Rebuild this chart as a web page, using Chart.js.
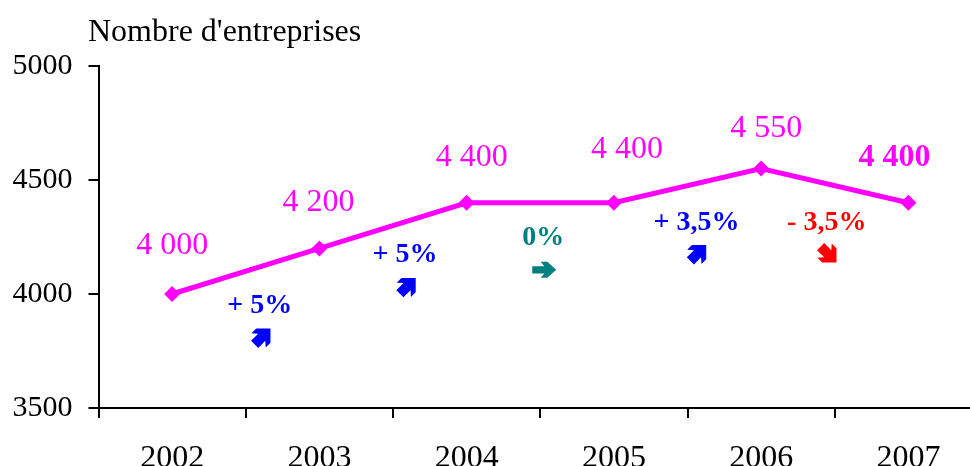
<!DOCTYPE html>
<html>
<head>
<meta charset="utf-8">
<script src="https://cdn.jsdelivr.net/npm/chart.js@4/dist/chart.umd.min.js"></script>
<style>
  html, body { margin: 0; padding: 0; background: #fff; overflow: hidden; }
  #wrap { width: 970px; height: 466px; overflow: hidden; }
  canvas { display: block; }
</style>
</head>
<body>
<div id="wrap"><canvas id="chart" width="990" height="466"></canvas></div>
<script>
// Nombre d'entreprises 2002-2007
const years = ['2002', '2003', '2004', '2005', '2006', '2007'];
const entreprises = [4000, 4200, 4400, 4400, 4550, 4400];
const valueLabels = ['4 000', '4 200', '4 400', '4 400', '4 550', '4 400'];
const changeLabels = ['+ 5%', '+ 5%', '0%', '+ 3,5%', '- 3,5%'];
const changeDirections = ['up', 'up', 'flat', 'up', 'down'];
const yMin = 3500;
const yMax = 5000;
const yStep = 500;

const SERIF = '"Liberation Serif", "Times New Roman", serif';
const MAGENTA = '#ff00ff';
const dirColors = { up: '#0000ff', flat: '#008080', down: '#ff0000' };

// label offsets (px) from each point / segment midpoint
const valueOffsets = [[0, -48], [-1, -46], [5, -45], [13, -53], [5, -40], [-14, -45]];
const changeTextOffsets = [[14, 35], [12, 29], [3, 35], [9, 37], [-8, 37]];
const changeArrowOffsets = [[16, 66], [14, 61], [4, 67], [10, 68], [-7, 68]];

function drawArrow(ctx, x, y, dir, color) {
    let pts, angle = 0, s = 1;
    if (dir === 'flat') {
        pts = [[-12, -3.6], [0, -3.6], [-3.5, -8], [3, -8], [12, 0], [3, 8], [-3.5, 8], [0, 3.6], [-12, 3.6]];
    } else {
        // chunkier diagonal arrow
        pts = [[-9, -4.5], [0, -4.5], [-4, -9], [2, -9], [11, 0], [2, 9], [-4, 9], [0, 4.5], [-9, 4.5]];
        angle = dir === 'up' ? -Math.PI / 4 : Math.PI / 4;
        s = 1.12;
    }
    ctx.save();
    ctx.translate(x, y);
    ctx.rotate(angle);
    ctx.scale(s, s);
    ctx.beginPath();
    pts.forEach((p, i) => i ? ctx.lineTo(p[0], p[1]) : ctx.moveTo(p[0], p[1]));
    ctx.closePath();
    ctx.fillStyle = color;
    ctx.fill();
    ctx.restore();
}

const annotations = {
    id: 'annotations',
    afterDatasetsDraw(chart) {
        const ctx = chart.ctx;
        const pts = chart.getDatasetMeta(0).data;
        ctx.save();
        ctx.textAlign = 'center';
        ctx.textBaseline = 'middle';
        // value labels
        pts.forEach((p, i) => {
            const last = i === pts.length - 1;
            ctx.font = (last ? 'bold ' : '') + '32px ' + SERIF;
            ctx.fillStyle = MAGENTA;
            ctx.fillText(valueLabels[i], p.x + valueOffsets[i][0], p.y + valueOffsets[i][1]);
        });
        // year-on-year change
        ctx.font = 'bold 28px ' + SERIF;
        changeLabels.forEach((txt, i) => {
            const mx = (pts[i].x + pts[i + 1].x) / 2;
            const my = (pts[i].y + pts[i + 1].y) / 2;
            const col = dirColors[changeDirections[i]];
            ctx.fillStyle = col;
            ctx.fillText(txt, mx + changeTextOffsets[i][0], my + changeTextOffsets[i][1]);
            drawArrow(ctx, mx + changeArrowOffsets[i][0], my + changeArrowOffsets[i][1], changeDirections[i], col);
        });
        // axis title
        ctx.textAlign = 'left';
        ctx.textBaseline = 'alphabetic';
        ctx.font = '32px ' + SERIF;
        ctx.fillStyle = '#000';
        ctx.fillText("Nombre d'entreprises", 88, 41);
        ctx.restore();
    }
};

const axisGrid = {
    drawOnChartArea: false,
    drawTicks: true,
    tickLength: 10,
    color: '#000',
    lineWidth: 2
};

new Chart(document.getElementById('chart'), {
    type: 'line',
    data: {
        labels: years,
        datasets: [{
            data: entreprises,
            borderColor: MAGENTA,
            backgroundColor: MAGENTA,
            borderWidth: 5,
            pointStyle: 'rectRot',
            pointRadius: 8,
            pointBorderWidth: 0,
            pointBackgroundColor: MAGENTA,
            tension: 0,
            clip: false
        }]
    },
    options: {
        responsive: false,
        animation: false,
        layout: { padding: { top: 66, right: 0, left: 0, bottom: 0 } },
        plugins: { legend: { display: false }, tooltip: { enabled: false } },
        scales: {
            x: {
                offset: true,
                grid: Object.assign({ offset: true }, axisGrid),
                border: { color: '#000', width: 2 },
                ticks: {
                    color: '#000',
                    font: { family: SERIF, size: 32 },
                    padding: 21,
                    maxRotation: 0,
                    autoSkip: false
                },
                afterFit: s => { s.height = 58; }
            },
            y: {
                min: yMin,
                max: yMax,
                grid: axisGrid,
                border: { color: '#000', width: 2 },
                ticks: {
                    stepSize: yStep,
                    color: '#000',
                    font: { family: SERIF, size: 30 },
                    padding: 16,
                    callback: v => String(v)
                },
                afterFit: s => { s.width = 98.5; }
            }
        }
    },
    plugins: [annotations]
});
</script>
</body>
</html>
